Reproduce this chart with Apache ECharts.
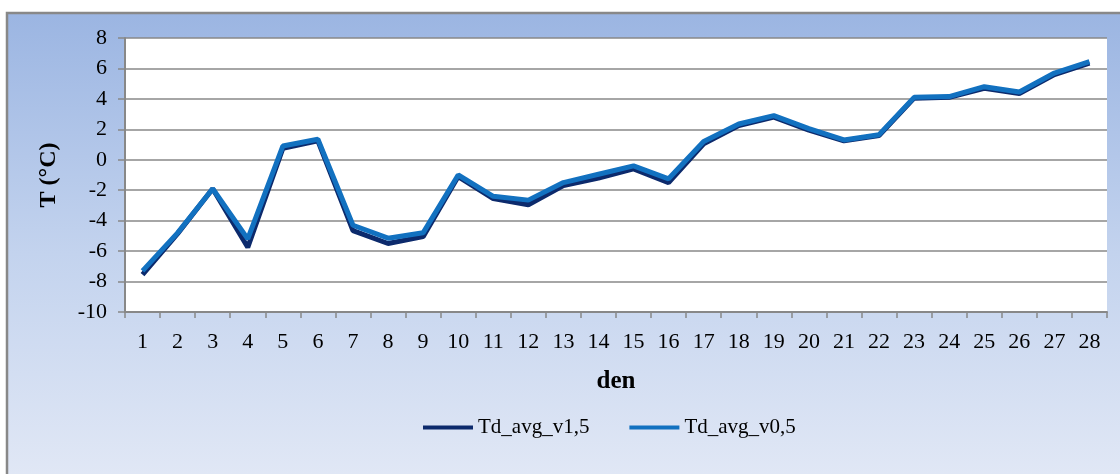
<!DOCTYPE html>
<html>
<head>
<meta charset="utf-8">
<script src="https://cdn.jsdelivr.net/npm/echarts@6/dist/echarts.min.js"></script>
<style>
  html, body { margin: 0; padding: 0; background: #ffffff; }
  #chart { width: 1120px; height: 474px; }
</style>
</head>
<body>
<div id="chart"></div>
<script>
// days 1..28
const days = ['1', '2', '3', '4', '5', '6', '7', '8', '9', '10', '11', '12', '13', '14',
  '15', '16', '17', '18', '19', '20', '21', '22', '23', '24', '25', '26', '27', '28']

// Td_avg_v1,5 (dark)
const tdV15 = [-7.55, -4.85, -1.9, -5.75, 0.75, 1.25, -4.65, -5.5, -5.05, -1.1,
  -2.55, -2.95, -1.7, -1.2, -0.6, -1.5, 1.05, 2.25, 2.8, 1.95,
  1.25, 1.6, 4.05, 4.1, 4.7, 4.35, 5.6, 6.35]

// Td_avg_v0,5 (light)
const tdV05 = [-7.3, -4.8, -1.9, -5.2, 0.9, 1.35, -4.3, -5.15, -4.8, -1.0,
  -2.4, -2.65, -1.5, -0.95, -0.4, -1.25, 1.2, 2.35, 2.9, 2.05,
  1.3, 1.65, 4.1, 4.15, 4.8, 4.45, 5.7, 6.45]

const serif = '"Liberation Serif", "Times New Roman", serif'
const gray = '#888888'

const chart = echarts.init(document.getElementById('chart'), null, { renderer: 'canvas' })

chart.setOption({
  animation: false,
  backgroundColor: '#ffffff',
  graphic: [{
    type: 'rect',
    z: -10,
    silent: true,
    shape: { x: 7, y: 13, width: 1130, height: 480 },
    style: {
      fill: new echarts.graphic.LinearGradient(0, 0, 0, 1, [
        { offset: 0, color: '#9bb5e2' },
        { offset: 0.5, color: '#c3d3ee' },
        { offset: 1, color: '#e3e9f6' },
      ]),
      stroke: gray,
      lineWidth: 2.5,
    },
  }],
  grid: {
    left: 125, right: 13, top: 38, bottom: 162,
    show: true,
    backgroundColor: '#ffffff',
    borderWidth: 0,
  },
  legend: {
    left: 418,
    top: 412,
    icon: 'rect',
    itemWidth: 50,
    itemHeight: 4,
    itemGap: 40,
    textStyle: { fontFamily: serif, fontSize: 21, color: '#000' },
    data: ['Td_avg_v1,5', 'Td_avg_v0,5'],
  },
  xAxis: {
    type: 'category',
    data: days,
    boundaryGap: true,
    name: 'den',
    nameLocation: 'middle',
    nameGap: 57,
    nameTextStyle: { fontFamily: serif, fontSize: 25, fontWeight: 'bold', color: '#000' },
    axisLine: { onZero: false, lineStyle: { color: gray, width: 2 } },
    axisTick: { show: true, length: 6, lineStyle: { color: gray, width: 1.5 } },
    axisLabel: { fontFamily: serif, fontSize: 22, color: '#000', margin: 19, interval: 0 },
    splitLine: { show: false },
  },
  yAxis: {
    type: 'value',
    min: -10,
    max: 8,
    interval: 2,
    name: 'T (°C)',
    nameLocation: 'middle',
    nameGap: 64,
    nameRotate: 90,
    nameTextStyle: { fontFamily: serif, fontSize: 24, fontWeight: 'bold', color: '#000' },
    axisLine: { show: true, lineStyle: { color: gray, width: 2 } },
    axisTick: { show: true, length: 7, lineStyle: { color: gray, width: 1.5 } },
    axisLabel: { fontFamily: serif, fontSize: 22, color: '#000', margin: 18 },
    splitLine: { lineStyle: { color: gray, width: 1.5 } },
  },
  series: [
    {
      name: 'Td_avg_v1,5',
      type: 'line',
      data: tdV15,
      symbol: 'none',
      color: '#0c2a6c',
      lineStyle: { color: '#0c2a6c', width: 5 },
    },
    {
      name: 'Td_avg_v0,5',
      type: 'line',
      data: tdV05,
      symbol: 'none',
      color: '#1271c0',
      lineStyle: { color: '#1271c0', width: 5 },
    },
  ],
})
</script>
</body>
</html>
